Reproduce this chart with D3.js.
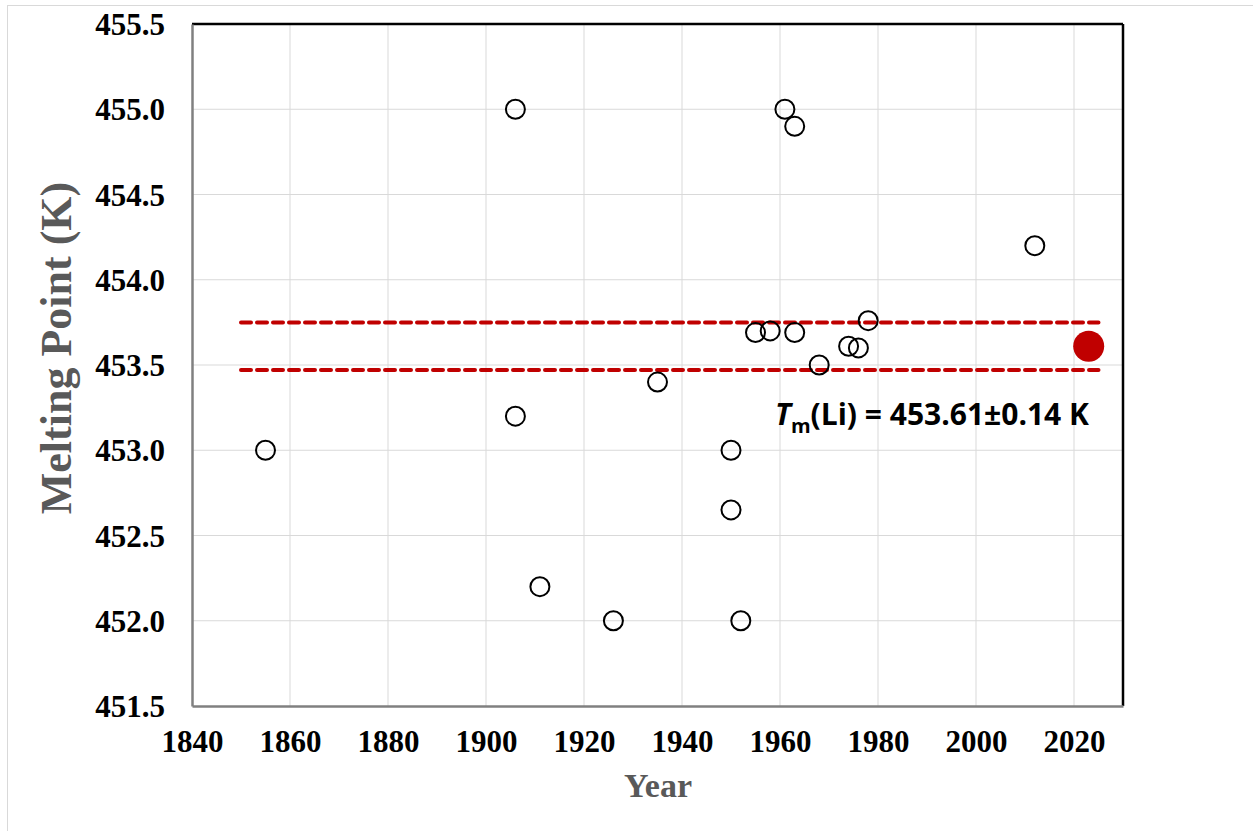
<!DOCTYPE html>
<html><head><meta charset="utf-8">
<script src="https://cdn.jsdelivr.net/npm/d3@7"></script>
<style>body{margin:0;background:#fff;} svg{display:block;}</style>
</head><body>
<svg id="c" width="1253" height="831"></svg>
<script>
// Data
const years  = [1855, 1906, 1906, 1911, 1926, 1935, 1950, 1950, 1952, 1955, 1958, 1961, 1963, 1963, 1968, 1974, 1976, 1978, 2012];
const values = [453.0, 455.0, 453.2, 452.2, 452.0, 453.4, 453.0, 452.65, 452.0, 453.69, 453.7, 455.0, 454.9, 453.69, 453.5, 453.61, 453.6, 453.76, 454.2];
const thisWorkYear = [2023];
const thisWorkValue = [453.61];
const bandYears = [1850, 2025];
const bandValues = [453.75, 453.47];
const xTicks = [1840, 1860, 1880, 1900, 1920, 1940, 1960, 1980, 2000, 2020];
const yTicks = [451.5, 452.0, 452.5, 453.0, 453.5, 454.0, 454.5, 455.0, 455.5];

const svg = d3.select("#c");
const L = 192, R = 1123, T = 24, B = 706;
const x = d3.scaleLinear().domain([1840, 2030]).range([L, R]);
const y = d3.scaleLinear().domain([451.5, 455.5]).range([B, T]);

// outer chart border
svg.append("rect").attr("x", 7.5).attr("y", 5.5).attr("width", 1300).attr("height", 900)
  .attr("fill", "none").attr("stroke", "#d9d9d9").attr("stroke-width", 1);

// gridlines
svg.append("g").selectAll("line").data(xTicks.slice(1)).join("line")
  .attr("x1", d => x(d)).attr("x2", d => x(d)).attr("y1", T).attr("y2", B)
  .attr("stroke", "#d9d9d9").attr("stroke-width", 1);
svg.append("g").selectAll("line").data(yTicks.slice(1)).join("line")
  .attr("y1", d => y(d)).attr("y2", d => y(d)).attr("x1", L).attr("x2", R)
  .attr("stroke", "#d9d9d9").attr("stroke-width", 1);

// plot border (top/right black)
svg.append("line").attr("x1", L).attr("x2", R).attr("y1", T).attr("y2", T).attr("stroke", "#000").attr("stroke-width", 2.5);
svg.append("line").attr("x1", R).attr("x2", R).attr("y1", T).attr("y2", B).attr("stroke", "#000").attr("stroke-width", 2.5);

// axes
const xAxis = d3.axisBottom(x).tickValues(xTicks).tickSize(0).tickFormat(d3.format("d")).tickPadding(24);
const yAxis = d3.axisLeft(y).tickValues(yTicks).tickSize(0).tickFormat(d3.format(".1f")).tickPadding(27);
const gx = svg.append("g").attr("transform", `translate(0,${B})`).call(xAxis);
const gy = svg.append("g").attr("transform", `translate(${L},0)`).call(yAxis);
[gx, gy].forEach(g => {
  g.select(".domain").attr("stroke", "#808080").attr("stroke-width", 2.5);
  g.selectAll("text").attr("font-family", "'Liberation Serif', 'Times New Roman', serif")
    .attr("font-weight", "bold").attr("font-size", 31).attr("fill", "#000");
});
gx.selectAll("text").attr("dy", "0.71em");
gy.selectAll("text").attr("dy", "0.34em");

// dashed band lines
svg.append("g").selectAll("line").data(bandValues).join("line")
  .attr("x1", x(bandYears[0])).attr("x2", x(bandYears[1]))
  .attr("y1", d => y(d)).attr("y2", d => y(d))
  .attr("stroke", "#c00000").attr("stroke-width", 4)
  .attr("stroke-dasharray", "10,6").attr("stroke-linecap", "round");

// data points
svg.append("g").selectAll("circle").data(years.map((d, i) => [d, values[i]])).join("circle")
  .attr("cx", d => x(d[0])).attr("cy", d => y(d[1])).attr("r", 9.5)
  .attr("fill", "none").attr("stroke", "#000").attr("stroke-width", 2);

svg.append("g").selectAll("circle").data(thisWorkYear.map((d, i) => [d, thisWorkValue[i]])).join("circle")
  .attr("cx", d => x(d[0])).attr("cy", d => y(d[1])).attr("r", 15.5)
  .attr("fill", "#c00000");

// annotation
const ann = svg.append("text").attr("x", 775).attr("y", 425)
  .attr("font-family", "'Open Sans', 'Liberation Sans', sans-serif").attr("font-weight", "bold")
  .attr("font-size", 30).attr("fill", "#000");
ann.append("tspan").attr("font-style", "italic").text("T");
ann.append("tspan").attr("font-size", 20).attr("dy", 8).text("m");
ann.append("tspan").attr("dy", -8).text("(Li) = 453.61±0.14 K");

// axis titles
svg.append("text").attr("x", 658).attr("y", 797).attr("text-anchor", "middle")
  .attr("font-family", "'Liberation Serif', 'Times New Roman', serif").attr("font-weight", "bold")
  .attr("font-size", 34).attr("fill", "#595959").text("Year");
svg.append("text").attr("transform", "translate(71,348) rotate(-90)").attr("text-anchor", "middle")
  .attr("font-family", "'Liberation Serif', 'Times New Roman', serif").attr("font-weight", "bold")
  .attr("font-size", 44).attr("fill", "#595959").text("Melting Point (K)");
</script>
</body></html>
